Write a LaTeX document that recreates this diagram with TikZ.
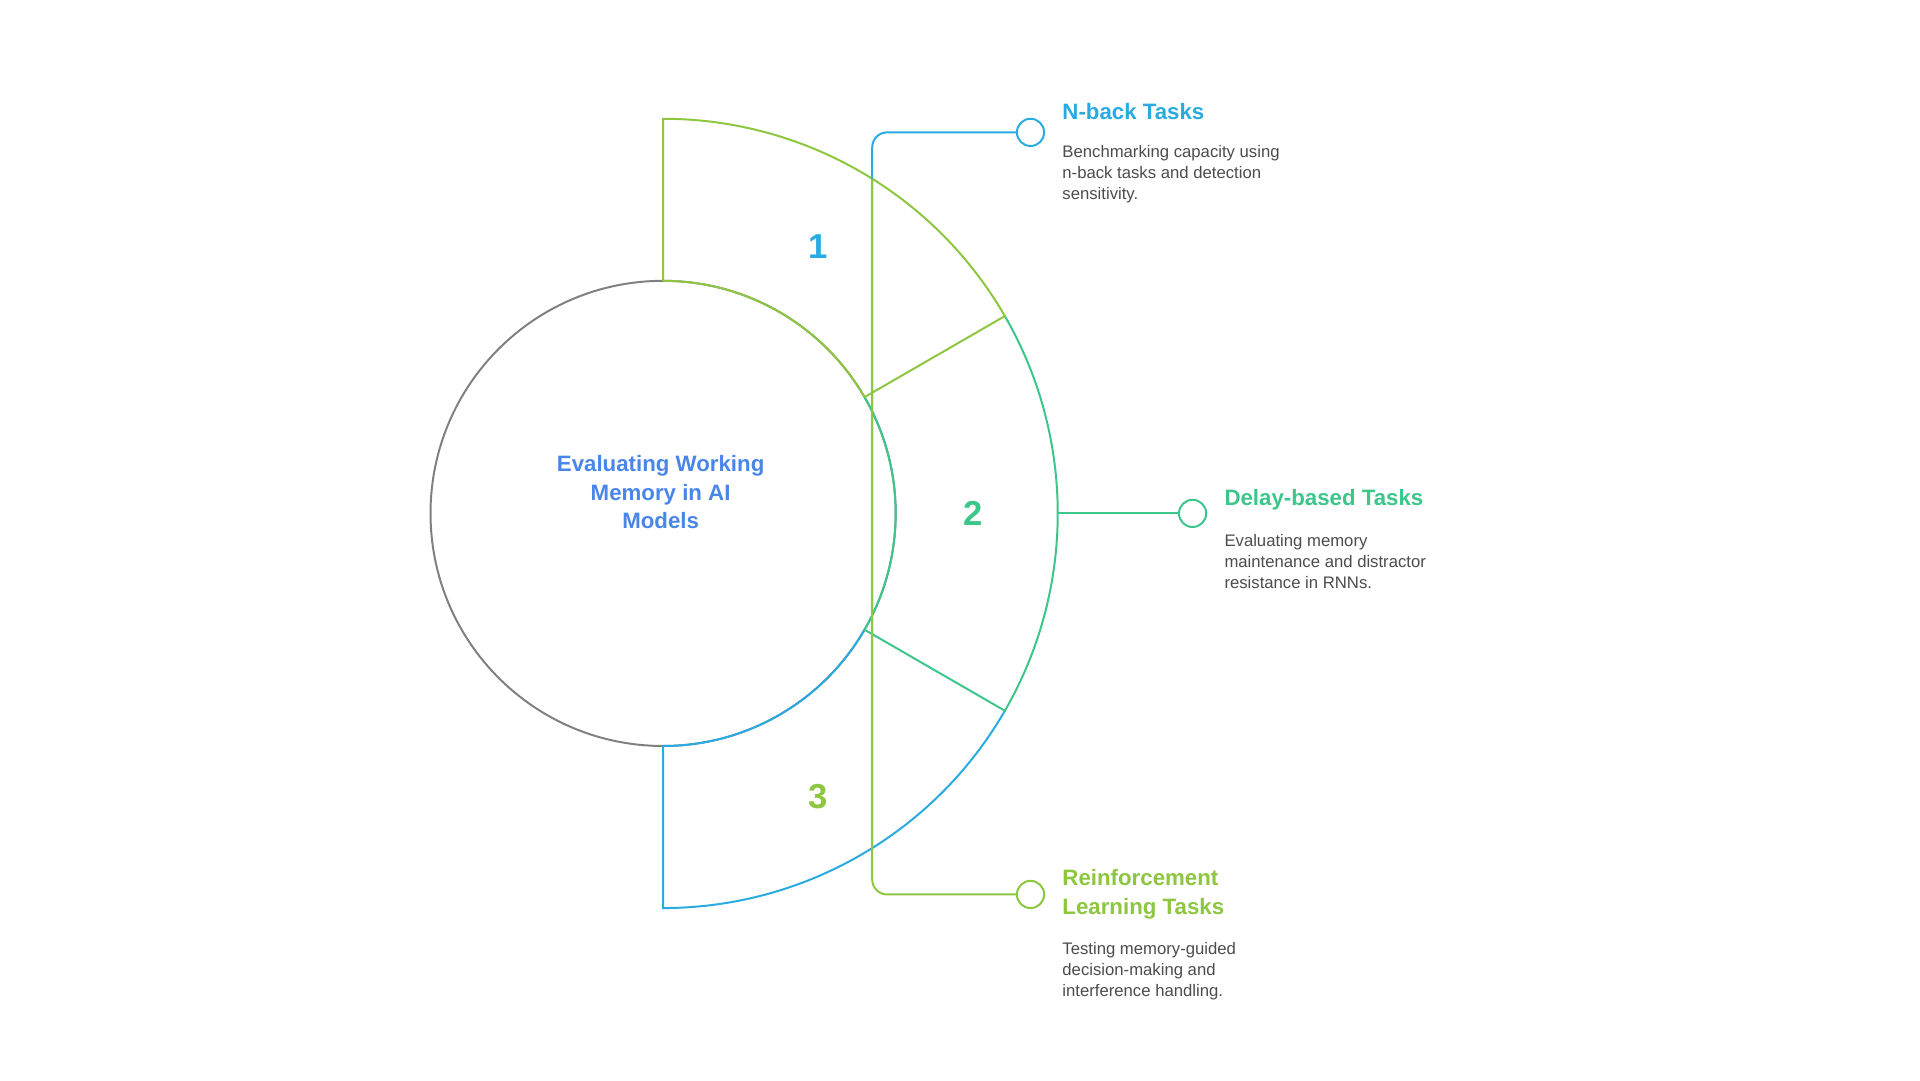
\documentclass[tikz,border=0pt]{standalone}
\usepackage{fontspec}
\setmainfont{Liberation Sans}
\begin{document}
\begin{tikzpicture}[x=1pt,y=-1pt,line width=1.6pt,
  hd/.style={anchor=west,font=\bfseries\fontsize{18}{22}\selectfont,align=left,inner sep=0pt},
  bd/.style={anchor=north west,font=\fontsize{13.5}{17}\selectfont,text=black!70,align=left,inner sep=0pt},
  num/.style={font=\bfseries\fontsize{28}{30}\selectfont},
  dot/.style={circle,draw,fill=white,minimum size=22pt,inner sep=0pt,line width=1.6pt}]
\definecolor{cb}{HTML}{29ABE2}
\definecolor{cg}{HTML}{3CC68A}
\definecolor{cy}{HTML}{8DC63F}
\definecolor{ct}{HTML}{4A86E8}
\fill[white] (0,0) rectangle (1552,873);
\useasboundingbox (0,0) rectangle (1552,873);
\coordinate (c) at (536,415);
\draw[gray] (c) circle[radius=188];
% segment 1
\draw[cb] ([shift={(90:188)}]c) -- ([shift={(90:319)}]c) arc[start angle=90,end angle=30,radius=319];
\draw[cb] ([shift={(90:188)}]c) arc[start angle=90,end angle=30,radius=188];
\draw[cg] ([shift={(30:188)}]c) -- ([shift={(30:319)}]c) arc[start angle=30,end angle=-30,radius=319];
\draw[cg] ([shift={(30:188)}]c) arc[start angle=30,end angle=-30,radius=188];
\draw[cy] ([shift={(-30:188)}]c) -- ([shift={(-30:319)}]c) arc[start angle=-30,end angle=-90,radius=319] -- ([shift={(-90:188)}]c);
\draw[cy] ([shift={(-30:188)}]c) arc[start angle=-30,end angle=-90,radius=188];
\node[num,text=cb] (n1) at (661,199) {1};
\node[num,text=cg] (n2) at (787,415) {2};
\node[num,text=cy] (n3) at (661,644) {3};
\node[font=\bfseries\fontsize{18}{23}\selectfont,text=ct,align=center] (t) at (534,398) {Evaluating Working\\Memory in AI\\Models};
% connectors
\coordinate (a1) at ([shift={(58:319)}]c);
\coordinate (a2) at ([shift={(0:319)}]c);
\coordinate (a3) at ([shift={(-58:319)}]c);
\node[dot,draw=cb] (d1) at (833,107) {};
\node[dot,draw=cg] (d2) at (964,415) {};
\node[dot,draw=cy] (d3) at (833,723) {};
\draw[cb,rounded corners=12pt] (a1) |- (d1);
\draw[cg] (a2) -- (d2);
\draw[cy,rounded corners=12pt] (a3) |- (d3);
\node[hd,text=cb] (h1) at (858,90) {N-back Tasks};
\node[bd] (b1) at (858,117) {Benchmarking capacity using\\n-back tasks and detection\\sensitivity.};
\node[hd,text=cg] (h2) at (989,404) {Delay-based Tasks};
\node[bd] (b2) at (989,431) {Evaluating memory\\maintenance and distractor\\resistance in RNNs.};
\node[hd,text=cy,font=\bfseries\fontsize{18}{23}\selectfont] (h3) at (858,723) {Reinforcement\\Learning Tasks};
\node[bd] (b3) at (858,761) {Testing memory-guided\\decision-making and\\interference handling.};
\end{tikzpicture}
\end{document}
